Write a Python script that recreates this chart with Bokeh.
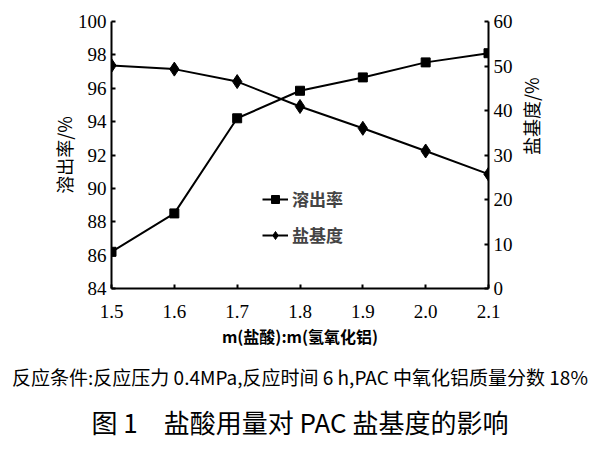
import math
from bokeh.plotting import figure
from bokeh.models import (Range1d, LinearAxis, Legend, LegendItem, FixedTicker,
                          PrintfTickFormatter, Title)
from bokeh.embed import file_html
from bokeh.resources import INLINE

# data
ratio = [1.5, 1.6, 1.7, 1.8, 1.9, 2.0, 2.1]
dissolution = [86.2, 88.5, 94.2, 95.85, 96.65, 97.55, 98.1]   # 溶出率 /% (left axis)
basicity = [50.1, 49.3, 46.5, 40.9, 36.0, 30.9, 25.7]          # 盐基度 /% (right axis)
x_ticks = [1.5, 1.6, 1.7, 1.8, 1.9, 2.0, 2.1]
left_ticks = [84, 86, 88, 90, 92, 94, 96, 98, 100]
right_ticks = [0, 10, 20, 30, 40, 50, 60]

W, H = 592, 448
CJK = "Noto Sans CJK SC"
SERIF = "Liberation Serif"

p = figure(width=W, height=H, x_range=Range1d(1.5, 2.1), y_range=Range1d(84, 100),
           output_backend="svg", toolbar_location=None,
           min_border_left=111, min_border_right=W - 488, min_border_top=21,
           min_border_bottom=H - 288)
p.extra_y_ranges = {"r": Range1d(0, 60)}
p.outline_line_color = None
p.xgrid.visible = False
p.ygrid.visible = False
p.background_fill_color = "white"
p.border_fill_color = "white"

raxis = LinearAxis(y_range_name="r")
p.add_layout(raxis, "right")

p.xaxis.ticker = FixedTicker(ticks=x_ticks)
p.xaxis.formatter = PrintfTickFormatter(format="%.1f")
p.yaxis[0].ticker = FixedTicker(ticks=left_ticks)
raxis.ticker = FixedTicker(ticks=right_ticks)

for ax in [p.xaxis[0], p.yaxis[0], raxis]:
    ax.axis_line_width = 2
    ax.axis_line_color = "black"
    ax.major_tick_in = 4
    ax.major_tick_out = 0
    ax.major_tick_line_width = 2
    ax.major_tick_line_color = "black"
    ax.minor_tick_line_color = None
    ax.major_label_text_font = SERIF
    ax.major_label_text_font_size = "19px"
    ax.major_label_text_color = "black"
    ax.major_label_standoff = 5
    ax.axis_label_text_font = CJK
    ax.axis_label_text_font_style = "normal"
    ax.axis_label_text_color = "black"
    ax.axis_label_text_font_size = "18px"

p.xaxis[0].major_label_standoff = 16

p.yaxis[0].axis_label = "溶出率/%"
p.yaxis[0].axis_label_standoff = -2
raxis.axis_label = "盐基度/%"
raxis.axis_label_standoff = 15
try:
    raxis.axis_label_orientation = math.pi / 2
except AttributeError:
    pass
p.xaxis[0].axis_label = "m(盐酸):m(氢氧化铝)"
p.xaxis[0].axis_label_text_font_style = "bold"
p.xaxis[0].axis_label_text_font_size = "16px"
p.xaxis[0].axis_label_standoff = 3

l1 = p.line(ratio, dissolution, line_width=2, color="black")
s1 = p.scatter(ratio, dissolution, marker="square", size=9, color="black")
l2 = p.line(ratio, basicity, line_width=2, color="black", y_range_name="r")
s2 = p.scatter(ratio, basicity, marker="diamond", size=14, color="black", y_range_name="r")

legend = Legend(items=[LegendItem(label="溶出率", renderers=[l1, s1]),
                       LegendItem(label="盐基度", renderers=[l2, s2])],
                location=(151, 41), padding=0, margin=0, spacing=11,
                glyph_width=26, glyph_height=20, label_height=20, label_standoff=4,
                label_text_font=CJK, label_text_font_size="17px", label_text_font_style="bold",
                border_line_color=None, background_fill_alpha=0)
p.add_layout(legend, "center")

cap = Title(text="反应条件:反应压力 0.4MPa,反应时间 6 h,PAC 中氧化铝质量分数 18%",
            align="center", text_font=CJK, text_font_size="19px",
            text_font_style="normal", text_color="black", standoff=20)
p.add_layout(cap, "below")
ttl = Title(text="图 1\u3000盐酸用量对 PAC 盐基度的影响",
            align="center", text_font=CJK, text_font_size="26px",
            text_font_style="normal", text_color="black", standoff=2)
p.add_layout(ttl, "below")

open("out.html", "w").write(file_html(p, INLINE))
